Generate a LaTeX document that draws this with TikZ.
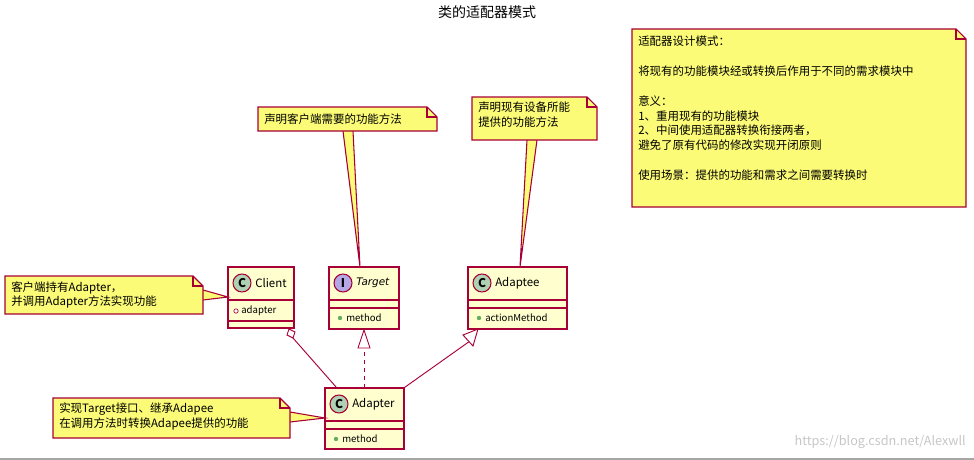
\documentclass[tikz,border=0pt]{standalone}
\usepackage{fontspec}
\setmainfont{Noto Sans CJK SC}
\newfontfamily\latf{DejaVu Sans}
\begin{document}
\begin{tikzpicture}[x=0.75pt,y=-0.75pt,
  bord/.style={draw=umlred,line width=0.8pt},
  notefill/.style={bord,fill=notey},
  clsfill/.style={bord,fill=clsy},
  txt/.style={inner sep=0,font=\fontsize{8.6}{11.2}\selectfont,align=left},
  small/.style={inner sep=0,font=\fontsize{7.2}{9}\selectfont},
  rel/.style={draw=umlred,line width=0.7pt}]
\definecolor{umlred}{HTML}{A80036}
\definecolor{notey}{HTML}{FBFB77}
\definecolor{clsy}{HTML}{FEFECE}
\definecolor{cgreen}{HTML}{ADD1B2}
\definecolor{ipurple}{HTML}{B4A7E5}
\useasboundingbox (0,0) rectangle (974,460);
\node[font=\fontsize{10.5}{12}\selectfont] (title) at (487,12) {类的适配器模式};
% big note
\draw[notefill] (632,29) -- (956,29) -- (966,39) -- (966,207) -- (632,207) -- cycle;
\draw[bord] (956,29) -- (956,39) -- (966,39);
\node[txt,anchor=north west] (bignote) at (638,36) {适配器设计模式：\\[11pt]将现有的功能模块经或转换后作用于不同的需求模块中\\[11pt]意义：\\1、重用现有的功能模块\\2、中间使用适配器转换衔接两者，\\避免了原有代码的修改实现开闭原则\\[11pt]使用场景：提供的功能和需求之间需要转换时};
% classes
\newcommand\cls[8]{% name x1 y1 x2 y2 letter color title
  \node[clsfill,minimum width={(#4-#2)*0.75pt},minimum height={(#5-#3)*0.75pt},inner sep=0] (#1) at ({(#2+#4)/2},{(#3+#5)/2}) {};
  \draw[bord,fill=#7] (#2+14,#3+16) circle (9);
  \node[inner sep=0,font=\bfseries\fontsize{9}{10}\selectfont] at (#2+14,#3+16) {#6};
  \node[txt,anchor=west] at (#2+27,#3+16) {#8};
  \draw[bord] (#2,#3+33) -- (#4,#3+33);}
\cls{client}{228}{267}{294}{328}{C}{cgreen}{Client}
\draw[bord] (228,321) -- (294,321);
\draw[bord,fill=white,line width=0.5pt] (236,311) circle (2.2);
\node[small,anchor=west] at (241,311) {adapter};
\cls{target}{329}{267}{399}{329}{I}{ipurple}{\latf\itshape\fontsize{7.8}{10}\selectfont Target}
\draw[bord] (329,308) -- (399,308);
\fill[green!45!black!60] (340,318) circle (2.2);
\node[small,anchor=west] at (346,318) {method};
\cls{adaptee}{468}{267}{567}{329}{C}{cgreen}{Adaptee}
\draw[bord] (468,308) -- (567,308);
\fill[green!45!black!60] (479,318) circle (2.2);
\node[small,anchor=west] at (485,318) {actionMethod};
\cls{adapter}{325}{388}{404}{449}{C}{cgreen}{Adapter}
\draw[bord] (325,429) -- (404,429);
\fill[green!45!black!60] (336,439) circle (2.2);
\node[small,anchor=west] at (342,439) {method};
% notes top
\coordinate (tt) at (360,267);
\coordinate (at) at (520,267);
\draw[notefill] (343,131) -- (tt) -- (353,131);
\draw[notefill] (258,107) -- (427,107) -- (437,117) -- (437,131) -- (353,131) -- (343,131) -- (258,131) -- cycle;
\draw[bord] (427,107) -- (427,117) -- (437,117);
\node[txt,anchor=west] (n1) at (264,119) {声明客户端需要的功能方法};
\draw[notefill] (527,140) -- (at) -- (537,140);
\draw[notefill] (472,97) -- (587,97) -- (597,107) -- (597,140) -- (472,140) -- cycle;
\draw[bord] (587,97) -- (587,107) -- (597,107);
\node[txt,anchor=north west] (n2) at (478,102) {声明现有设备所能\\提供的功能方法};
% left notes
\coordinate (ct) at (228,297);
\draw[notefill] (203,290) -- (ct) -- (203,300);
\draw[notefill] (5,276) -- (193,276) -- (203,286) -- (203,314) -- (5,314) -- cycle;
\draw[bord] (193,276) -- (193,286) -- (203,286);
\node[txt,anchor=north west] (n3) at (11,281) {客户端持有Adapter，\\并调用Adapter方法实现功能};
\coordinate (adt) at (325,418);
\draw[notefill] (290,412) -- (adt) -- (290,422);
\draw[notefill] (53,398) -- (280,398) -- (290,408) -- (290,438) -- (53,438) -- cycle;
\draw[bord] (280,398) -- (280,408) -- (290,408);
\node[txt,anchor=north west] (n4) at (59,403) {实现Target接口、继承Adapee\\在调用方法时转换Adapee提供的功能};
% relations
\draw[rel] (adapter.north west) ++(12,0) -- (293,338);
\draw[rel,fill=white] (289,329) -- (287,335) -- (293,338) -- (295,332) -- cycle;
\draw[rel,dashed] (364,388) -- (364,348);
\draw[rel,fill=white] (364,330) -- (358,348) -- (370,348) -- cycle;
\draw[rel] (adapter.north east) -- (470,341);
\draw[rel,fill=white] (478,329) -- (463,335) -- (473,346) -- cycle;
% bottom
\draw[gray!70,line width=1pt] (0,459) -- (974,459);
\node[inner sep=0,text=gray!45,font=\fontsize{9.5}{11}\selectfont,anchor=east] (wm) at (966,442) {https://blog.csdn.net/Alexwll};
\end{tikzpicture}
\end{document}
